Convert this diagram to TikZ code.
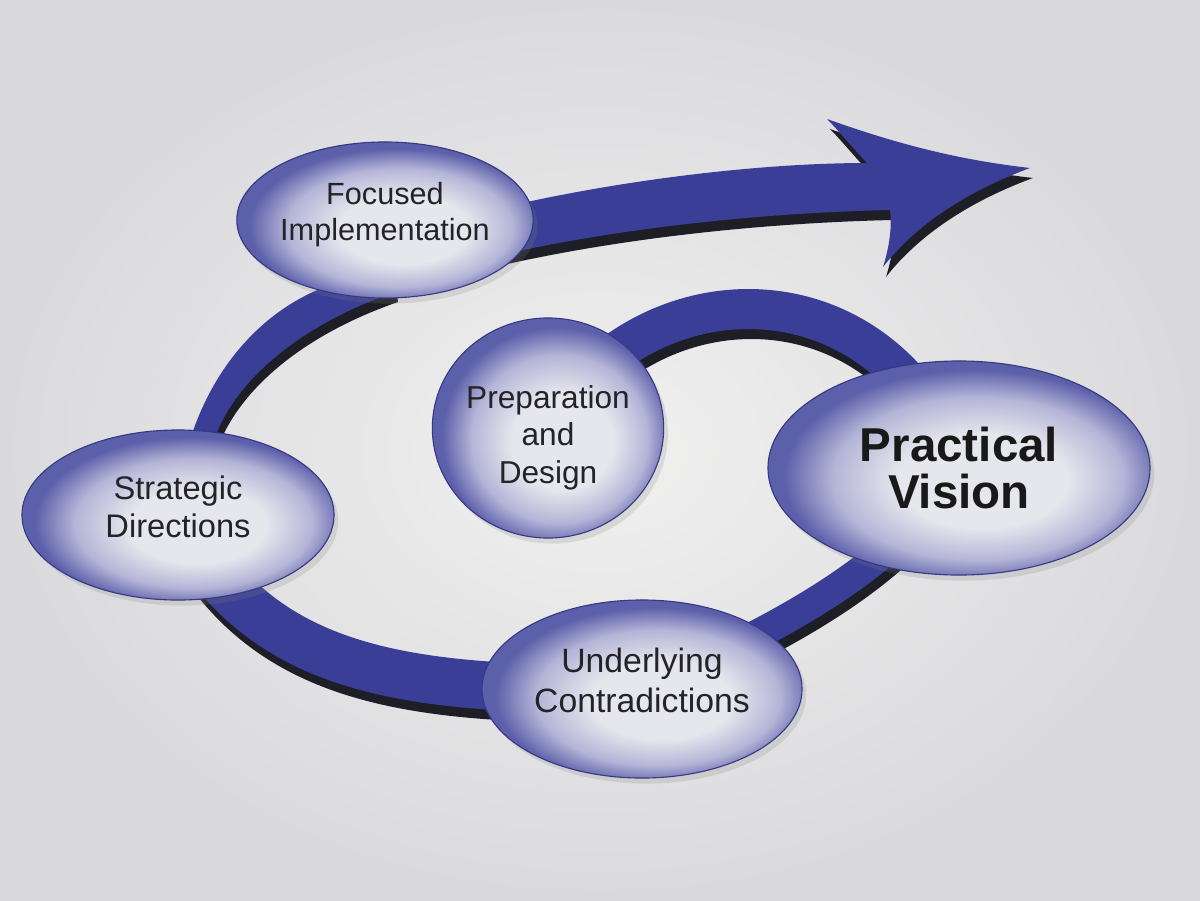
\documentclass[tikz,border=0pt]{standalone}
\usepackage{fontspec}
\setmainfont{Liberation Sans}
\usepackage{xcolor}
\usepackage{tikz}
\usetikzlibrary{shapes.geometric, shadows}
\definecolor{paperlight}{RGB}{241,241,240}
\definecolor{paperdark}{RGB}{218,217,220}
\definecolor{bandblue}{RGB}{58,62,150}
\definecolor{bandshade}{RGB}{30,30,38}
\definecolor{ovalcore}{RGB}{230,230,237}
\definecolor{ovalmid}{RGB}{180,181,215}
\definecolor{ovalrim}{RGB}{92,95,170}
\definecolor{ovalline}{RGB}{55,58,130}
\definecolor{inkgray}{RGB}{35,35,40}
\pgfdeclareradialshading{ovalglow}{\pgfpoint{4bp}{-4bp}}{%
  color(0bp)=(ovalcore); color(11bp)=(ovalcore); color(19bp)=(ovalmid);
  color(25bp)=(ovalrim); color(50bp)=(ovalrim)}
\pgfdeclarelayer{paper}
\pgfdeclarelayer{ribbon}
\pgfsetlayers{paper,ribbon,main}
\tikzset{
  stage/.style    = {ellipse, draw=ovalline, line width=0.8pt, shade, shading=ovalglow,
                     inner sep=0pt, align=center, text=inkgray,
                     font=\fontsize{22.5}{26.5}\selectfont,
                     drop shadow={opacity=0.2, shadow xshift=3pt, shadow yshift=-4pt}},
  goal/.style     = {stage, font=\fontsize{33.8}{33.5}\selectfont\bfseries, text=black!90},
  band/.style     = {fill=bandblue,     % filled piece of the spiral
                     preaction={fill=bandshade, transform canvas={shift={(2.1pt,-7.1pt)}}}},
  bandline/.style = {draw=bandblue, line width=#1, line cap=butt,  % stroked piece
                     preaction={draw=bandshade, line width=#1,
                                transform canvas={shift={(2.1pt,-7.1pt)}}}}
}

\begin{document}
\begin{tikzpicture}[x=0.025cm, y=-0.025cm]
  \useasboundingbox (0,0) rectangle (1200,900);
  % stages
  \node[stage, minimum width=7.4cm, minimum height=3.9cm, font=\fontsize{21.8}{26}\selectfont] (fi) at (385,220)
    {Focused\\Implementation\rule[-12pt]{0pt}{12pt}};
  \node[stage, minimum width=5.55cm, minimum height=5.5cm] (prep) at (548,428)
    {\rule{0pt}{30pt}Preparation\\and\\Design};
  \node[goal, minimum width=9.55cm, minimum height=5.35cm] (pv) at (959,468) {Practical\\Vision};
  \node[stage, minimum width=7.8cm, minimum height=4.25cm, font=\fontsize{23.2}{26.5}\selectfont] (sd) at (178,515)
    {Strategic\\Directions\rule[-12pt]{0pt}{12pt}};
  \node[stage, minimum width=8cm, minimum height=4.45cm, font=\fontsize{24}{28.5}\selectfont] (uc) at (642,689)
    {Underlying\\Contradictions\rule[-13pt]{0pt}{13pt}};
  % spiral behind the stages
  \begin{pgfonlayer}{ribbon}
    \draw[bandline=1cm] (prep.center) .. controls (640,268) and (880,258) .. (pv.center);
    \draw[bandline=0.75cm] (pv.center) .. controls (900,560) and (800,620) .. (uc.center);
    \draw[bandline=1.2cm] (uc.center) .. controls (420,690) and (260,680) .. (sd.center);
    \fill[band] (sd.center) -- (190,440) .. controls (212,370) and (260,310) .. (330,285)
      -- (fi.center) -- (395,292) .. controls (300,325) and (235,380) .. (214,440) -- cycle;
    \fill[band] (fi.center) -- (500,208) .. controls (620,180) and (760,163) .. (867,163)
      .. controls (850,145) and (838,130) .. (827,119)
      .. controls (900,145) and (960,160) .. (1030,168)
      .. controls (965,192) and (915,226) .. (883,267)
      .. controls (890,245) and (892,225) .. (890,210)
      .. controls (760,213) and (620,228) .. (500,255) -- cycle;
  \end{pgfonlayer}
  \begin{pgfonlayer}{paper}
    \shade[inner color=paperlight, outer color=paperdark] (0,0) rectangle (1200,900);
  \end{pgfonlayer}
\end{tikzpicture}
\end{document}
